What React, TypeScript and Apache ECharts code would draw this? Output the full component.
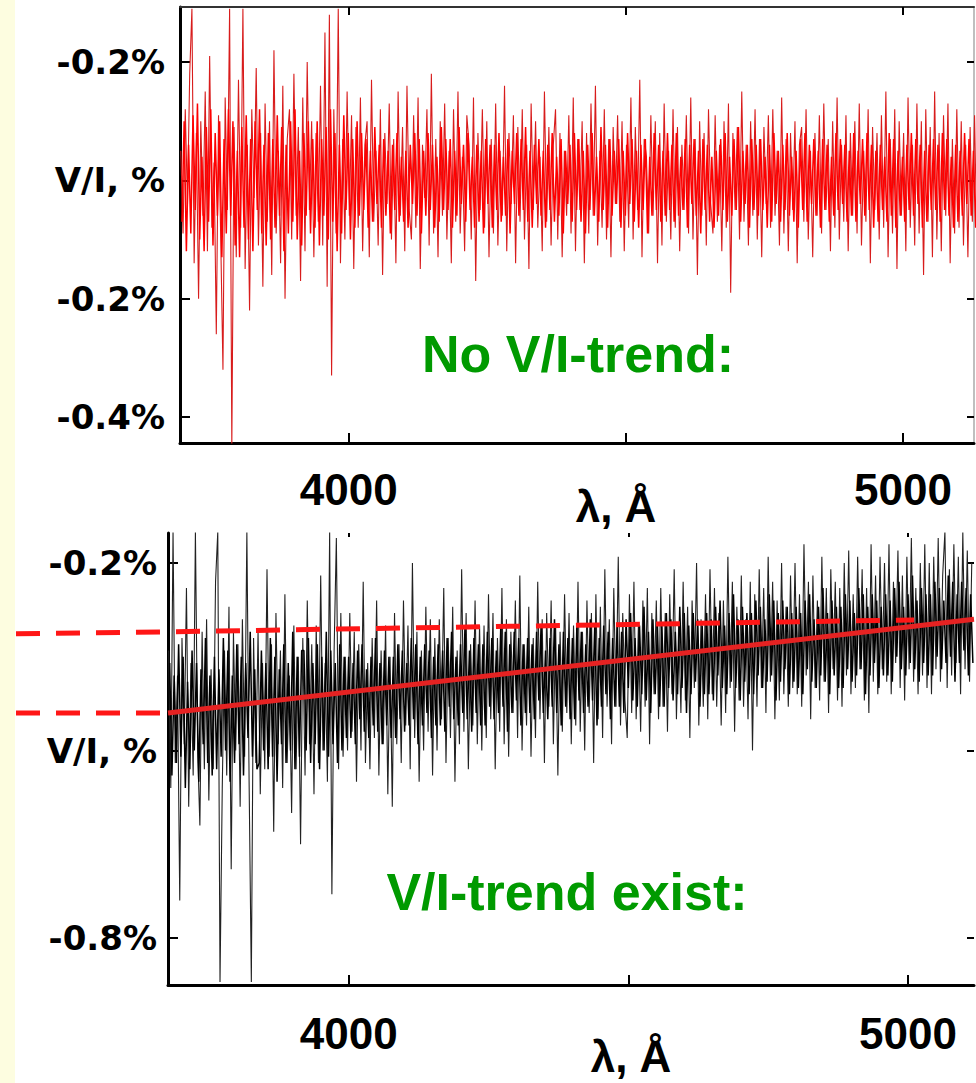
import React, { useEffect, useRef } from "react";
import * as echarts from "echarts";

// Sampling grid of the two spectra (wavelength, Å); the "core" samples sit halfway between
const TOP_START = 3697;
const BOT_START = 3678;
const STEP = 4;
const CORE_OFFSET = 2;

// Upper panel: V/I (%) with no trend (red)
const TOP_VALUES = [
  0.05, -0.09, 0.12, -0.04, 0.18, 0.29, -0.14, 0.08, -0.2, 0.1, -0.06, 0.15, -0.12, 0.21, -0.08, 0.03, -0.26, 0.11, -0.1, -0.32,
  0.14, -0.05, 0.29, -0.45, 0.09, -0.13, 0.17, -0.08, 0.29, -0.15, 0.06, -0.22, 0.12, -0.03, 0.19, -0.11, 0.08, -0.18, 0.13, -0.07,
  0.1, -0.16, 0.22, -0.09, 0.05, -0.14, 0.16, -0.2, 0.07, 0.12, -0.1, 0.18, -0.06, 0.09, -0.17, 0.14, -0.12, 0.2, -0.05, 0.1,
  -0.13, 0.08, -0.07, 0.16, -0.11, 0.25, -0.18, 0.28, -0.33, 0.12, -0.09, 0.29, -0.14, 0.07, -0.1, 0.15, -0.06, 0.11, -0.15, 0.09,
  -0.08, 0.14, -0.12, 0.06, 0.1, -0.13, 0.17, -0.07, 0.05, -0.11, 0.12, -0.16, 0.08, -0.04, 0.13, -0.1, 0.07, -0.14, 0.15, -0.06,
  0.09, -0.12, 0.16, -0.05, -0.1, 0.11, -0.08, 0.14, -0.15, 0.06, -0.03, 0.12, -0.11, 0.18, -0.09, 0.07, -0.13, 0.1, -0.06, 0.13,
  -0.1, 0.05, -0.14, 0.12, -0.07, 0.15, -0.09, 0.04, -0.12, 0.11, 0.06, -0.1, 0.14, -0.17, 0.08, -0.05, 0.12, -0.08, 0.1, -0.13,
  0.07, -0.09, 0.13, -0.11, 0.05, -0.06, 0.16, -0.12, 0.08, -0.04, 0.11, -0.14, 0.09, -0.07, 0.12, -0.1, 0.06, -0.15, 0.13, -0.05,
  0.1, -0.08, 0.04, -0.12, 0.15, -0.07, 0.09, -0.11, 0.06, 0.12, -0.1, 0.08, -0.13, 0.05, -0.06, 0.11, -0.09, 0.14, -0.12, 0.07,
  -0.05, 0.1, -0.14, 0.08, -0.09, 0.13, -0.06, 0.16, -0.11, 0.05, -0.08, 0.12, -0.1, 0.07, -0.13, 0.09, -0.04, 0.11, -0.07, 0.1,
  -0.12, 0.06, -0.08, 0.14, -0.1, 0.09, -0.05, 0.17, -0.13, 0.07, 0.04, -0.09, 0.11, -0.06, 0.1, -0.14, 0.08, -0.11, 0.13, -0.07,
  0.05, -0.1, 0.12, -0.08, 0.09, -0.12, 0.06, -0.05, 0.11, -0.09, 0.14, -0.1, 0.07, -0.16, 0.1, -0.06, 0.08, -0.11, 0.12, -0.04,
  -0.09, 0.11, -0.07, 0.06, -0.12, 0.1, -0.08, 0.13, -0.19, 0.08, -0.05, 0.09, -0.1, 0.15, -0.07, 0.06, -0.11, 0.1, -0.06, 0.12,
  -0.1, 0.07, -0.13, 0.09, -0.04, 0.11, -0.08, 0.12, -0.06, 0.05, -0.11, 0.14, -0.09, 0.07, -0.12, 0.08, -0.05, 0.1, -0.14, 0.06,
  0.09, -0.07, 0.12, -0.1, 0.05, -0.13, 0.08, -0.06, 0.11, -0.09, 0.13, -0.05, 0.07, -0.12, 0.1, -0.08, 0.14, -0.1, 0.06, -0.07,
  0.11, -0.12, 0.08, -0.06, 0.1, -0.09, 0.13, -0.11, 0.05, -0.07, 0.12, -0.14, 0.09, -0.05, 0.08, -0.1, 0.11, -0.08, 0.15, -0.13,
  0.07, -0.09, 0.12, -0.15, 0.1, -0.06, 0.08, -0.12, 0.14, -0.08, 0.06, -0.11, 0.13, -0.09, 0.1, -0.16, 0.12, -0.07, 0.09, -0.13,
  0.15, -0.1, 0.08, -0.12, 0.11, -0.06, 0.13, -0.14, 0.07, -0.09, 0.12, -0.08, 0.1, -0.11, 0.06, -0.13, 0.09, -0.07, 0.11, -0.1,
];
const TOP_CORE = [
  -0.07, 0.1, -0.12, 0.06, -0.09, 0.11, -0.05, 0.13, -0.1, 0.04, -0.12, 0.09, -0.07, 0.12, -0.11, 0.08, -0.06, 0.1, -0.13, 0.07,
  -0.09, 0.12, -0.06, 0.1, -0.11, 0.05, -0.13, 0.09, -0.08, 0.11, -0.1, 0.07, -0.12, 0.1, -0.05, 0.12, -0.09, 0.06, -0.11, 0.08,
  -0.1, 0.07, -0.08, 0.11, -0.06, 0.09, -0.12, 0.06, -0.09, 0.1, -0.07, 0.12, -0.1, 0.05, -0.11, 0.08, -0.06, 0.1, -0.09, 0.07,
  -0.08, 0.1, -0.11, 0.07, -0.06, 0.09, -0.1, 0.12, -0.07, 0.08, -0.12, 0.06, -0.09, 0.11, -0.05, 0.08, -0.1, 0.07, -0.08, 0.1,
  -0.06, 0.08, -0.05, 0.07, -0.08, 0.05, -0.07, 0.09, -0.04, 0.06, -0.08, 0.07, -0.06, 0.05, -0.09, 0.06, -0.05, 0.08, -0.07, 0.04,
  -0.07, 0.05, -0.08, 0.06, -0.04, 0.08, -0.06, 0.07, -0.09, 0.05, -0.06, 0.08, -0.05, 0.06, -0.08, 0.04, -0.07, 0.09, -0.05, 0.07,
  -0.05, 0.07, -0.08, 0.05, -0.06, 0.09, -0.04, 0.06, -0.07, 0.08, -0.05, 0.04, -0.08, 0.06, -0.07, 0.05, -0.09, 0.07, -0.04, 0.06,
  -0.08, 0.06, -0.05, 0.08, -0.07, 0.04, -0.06, 0.07, -0.09, 0.05, -0.04, 0.08, -0.06, 0.07, -0.05, 0.09, -0.07, 0.05, -0.08, 0.06,
  -0.04, 0.07, -0.06, 0.05, -0.08, 0.06, -0.05, 0.08, -0.07, 0.04, -0.06, 0.07, -0.09, 0.05, -0.04, 0.06, -0.07, 0.08, -0.05, 0.07,
  -0.07, 0.05, -0.09, 0.06, -0.05, 0.08, -0.06, 0.04, -0.07, 0.09, -0.05, 0.06, -0.08, 0.07, -0.06, 0.05, -0.04, 0.07, -0.08, 0.05,
  -0.06, 0.08, -0.04, 0.07, -0.07, 0.05, -0.08, 0.06, -0.05, 0.07, -0.09, 0.04, -0.06, 0.08, -0.05, 0.06, -0.07, 0.05, -0.06, 0.08,
  -0.05, 0.06, -0.07, 0.08, -0.06, 0.04, -0.05, 0.07, -0.08, 0.06, -0.04, 0.07, -0.06, 0.05, -0.09, 0.07, -0.05, 0.06, -0.07, 0.04,
  -0.08, 0.05, -0.06, 0.07, -0.05, 0.08, -0.07, 0.04, -0.06, 0.07, -0.05, 0.09, -0.07, 0.05, -0.04, 0.06, -0.08, 0.07, -0.05, 0.06,
  -0.06, 0.07, -0.05, 0.04, -0.08, 0.06, -0.07, 0.08, -0.04, 0.05, -0.07, 0.06, -0.05, 0.08, -0.06, 0.04, -0.07, 0.05, -0.08, 0.07,
  -0.05, 0.08, -0.07, 0.06, -0.04, 0.07, -0.06, 0.05, -0.08, 0.07, -0.05, 0.06, -0.07, 0.04, -0.06, 0.08, -0.05, 0.07, -0.04, 0.06,
  -0.07, 0.05, -0.06, 0.08, -0.07, 0.05, -0.04, 0.07, -0.06, 0.08, -0.05, 0.06, -0.08, 0.05, -0.07, 0.06, -0.05, 0.04, -0.07, 0.08,
  -0.06, 0.07, -0.08, 0.05, -0.06, 0.04, -0.07, 0.06, -0.05, 0.08, -0.06, 0.07, -0.04, 0.06, -0.08, 0.05, -0.07, 0.06, -0.05, 0.07,
  -0.05, 0.06, -0.07, 0.08, -0.05, 0.07, -0.06, 0.04, -0.08, 0.06, -0.07, 0.05, -0.06, 0.08, -0.04, 0.07, -0.06, 0.05, -0.08, 0.06,
];

// Lower panel: V/I (%) with a trend (black)
const BOT_VALUES = [
  -0.34, -0.56, -0.15, -0.52, -0.38, -0.74, -0.32, -0.49, -0.24, -0.59, -0.36, -0.54, -0.15, -0.5, -0.62, -0.31, -0.53, -0.29, -0.58, -0.37,
  -0.53, -0.23, -0.15, -0.87, -0.56, -0.34, -0.54, -0.27, -0.69, -0.31, -0.5, -0.33, -0.59, -0.29, -0.51, -0.15, -0.55, -0.87, -0.32, -0.52,
  -0.31, -0.57, -0.36, -0.53, -0.21, -0.51, -0.33, -0.63, -0.28, -0.49, -0.34, -0.56, -0.25, -0.52, -0.38, -0.6, -0.3, -0.53, -0.35, -0.65,
  -0.32, -0.54, -0.26, -0.49, -0.33, -0.57, -0.3, -0.52, -0.22, -0.5, -0.36, -0.55, -0.15, -0.73, -0.34, -0.16, -0.53, -0.28, -0.51, -0.35,
  -0.5, -0.28, -0.47, -0.31, -0.55, -0.33, -0.5, -0.23, -0.52, -0.36, -0.53, -0.32, -0.48, -0.26, -0.54, -0.34, -0.49, -0.3, -0.57, -0.35,
  -0.59, -0.28, -0.49, -0.33, -0.52, -0.26, -0.46, -0.3, -0.53, -0.2, -0.48, -0.31, -0.55, -0.34, -0.5, -0.27, -0.47, -0.29, -0.54, -0.32,
  -0.5, -0.29, -0.45, -0.24, -0.52, -0.32, -0.48, -0.27, -0.55, -0.34, -0.49, -0.21, -0.47, -0.28, -0.53, -0.33, -0.46, -0.26, -0.49, -0.3,
  -0.5, -0.3, -0.48, -0.25, -0.45, -0.28, -0.53, -0.32, -0.47, -0.24, -0.49, -0.29, -0.51, -0.31, -0.44, -0.26, -0.48, -0.22, -0.5, -0.33,
  -0.46, -0.27, -0.51, -0.32, -0.48, -0.23, -0.45, -0.29, -0.52, -0.28, -0.43, -0.26, -0.49, -0.3, -0.54, -0.31, -0.47, -0.25, -0.44, -0.28,
  -0.49, -0.3, -0.46, -0.23, -0.47, -0.31, -0.5, -0.26, -0.44, -0.28, -0.52, -0.25, -0.45, -0.27, -0.48, -0.21, -0.43, -0.29, -0.49, -0.24,
  -0.43, -0.19, -0.46, -0.28, -0.42, -0.48, -0.25, -0.44, -0.23, -0.45, -0.3, -0.47, -0.26, -0.43, -0.24, -0.49, -0.28, -0.41, -0.26, -0.45,
  -0.24, -0.43, -0.28, -0.47, -0.25, -0.41, -0.21, -0.45, -0.3, -0.44, -0.23, -0.42, -0.27, -0.48, -0.26, -0.4, -0.2, -0.46, -0.29, -0.43,
  -0.25, -0.45, -0.21, -0.41, -0.24, -0.43, -0.28, -0.46, -0.26, -0.44, -0.19, -0.4, -0.23, -0.47, -0.27, -0.42, -0.22, -0.43, -0.29, -0.45,
  -0.23, -0.5, -0.25, -0.43, -0.21, -0.4, -0.24, -0.44, -0.19, -0.39, -0.23, -0.45, -0.26, -0.42, -0.2, -0.41, -0.27, -0.43, -0.22, -0.4,
  -0.2, -0.41, -0.25, -0.43, -0.17, -0.38, -0.23, -0.45, -0.22, -0.4, -0.26, -0.42, -0.19, -0.39, -0.24, -0.44, -0.21, -0.37, -0.23, -0.42,
  -0.24, -0.43, -0.2, -0.38, -0.18, -0.41, -0.25, -0.4, -0.19, -0.37, -0.21, -0.42, -0.24, -0.44, -0.17, -0.39, -0.22, -0.41, -0.19, -0.37,
  -0.2, -0.39, -0.17, -0.41, -0.23, -0.36, -0.18, -0.4, -0.22, -0.42, -0.19, -0.37, -0.16, -0.39, -0.24, -0.41, -0.2, -0.38, -0.17, -0.4,
  -0.2, -0.41, -0.19, -0.37, -0.16, -0.39, -0.22, -0.15, -0.4, -0.21, -0.38, -0.17, -0.36, -0.19, -0.41, -0.15, -0.37, -0.18, -0.39, -0.2,
];
const BOT_CORE = [
  -0.36, -0.54, -0.38, -0.52, -0.33, -0.51, -0.35, -0.56, -0.39, -0.53, -0.34, -0.5, -0.36, -0.55, -0.37, -0.49, -0.32, -0.52, -0.38, -0.54,
  -0.35, -0.53, -0.37, -0.51, -0.32, -0.5, -0.34, -0.55, -0.38, -0.52, -0.33, -0.49, -0.35, -0.54, -0.36, -0.48, -0.31, -0.51, -0.37, -0.53,
  -0.52, -0.34, -0.5, -0.36, -0.53, -0.32, -0.51, -0.35, -0.55, -0.37, -0.49, -0.33, -0.52, -0.36, -0.5, -0.31, -0.53, -0.35, -0.51, -0.34,
  -0.34, -0.5, -0.32, -0.52, -0.36, -0.49, -0.33, -0.53, -0.35, -0.5, -0.31, -0.51, -0.34, -0.49, -0.36, -0.52, -0.33, -0.5, -0.35, -0.48,
  -0.35, -0.48, -0.36, -0.49, -0.34, -0.45, -0.33, -0.47, -0.37, -0.48, -0.35, -0.46, -0.32, -0.47, -0.36, -0.49, -0.34, -0.46, -0.35, -0.48,
  -0.35, -0.48, -0.33, -0.45, -0.34, -0.47, -0.36, -0.46, -0.32, -0.45, -0.33, -0.49, -0.35, -0.46, -0.33, -0.44, -0.34, -0.48, -0.35, -0.46,
  -0.33, -0.46, -0.34, -0.47, -0.32, -0.43, -0.31, -0.45, -0.35, -0.46, -0.33, -0.44, -0.3, -0.45, -0.34, -0.47, -0.32, -0.44, -0.33, -0.46,
  -0.33, -0.46, -0.31, -0.43, -0.32, -0.45, -0.34, -0.44, -0.3, -0.43, -0.31, -0.47, -0.33, -0.44, -0.31, -0.42, -0.32, -0.46, -0.33, -0.44,
  -0.32, -0.44, -0.33, -0.45, -0.31, -0.42, -0.3, -0.44, -0.34, -0.45, -0.32, -0.43, -0.29, -0.44, -0.33, -0.46, -0.31, -0.43, -0.32, -0.45,
  -0.32, -0.45, -0.3, -0.42, -0.31, -0.44, -0.33, -0.43, -0.29, -0.42, -0.3, -0.46, -0.32, -0.43, -0.3, -0.41, -0.31, -0.45, -0.32, -0.43,
  -0.3, -0.43, -0.31, -0.44, -0.29, -0.4, -0.28, -0.42, -0.32, -0.43, -0.3, -0.41, -0.27, -0.42, -0.31, -0.44, -0.29, -0.41, -0.3, -0.43,
  -0.3, -0.43, -0.28, -0.4, -0.29, -0.42, -0.31, -0.41, -0.27, -0.4, -0.28, -0.44, -0.3, -0.41, -0.28, -0.39, -0.29, -0.43, -0.3, -0.41,
  -0.28, -0.41, -0.29, -0.42, -0.27, -0.38, -0.26, -0.4, -0.3, -0.41, -0.28, -0.39, -0.25, -0.4, -0.29, -0.42, -0.27, -0.39, -0.28, -0.41,
  -0.28, -0.41, -0.26, -0.38, -0.27, -0.4, -0.29, -0.39, -0.25, -0.38, -0.26, -0.42, -0.28, -0.39, -0.26, -0.37, -0.27, -0.41, -0.28, -0.39,
  -0.27, -0.4, -0.28, -0.41, -0.26, -0.37, -0.25, -0.39, -0.29, -0.4, -0.27, -0.38, -0.24, -0.39, -0.28, -0.41, -0.26, -0.38, -0.27, -0.4,
  -0.27, -0.4, -0.25, -0.37, -0.26, -0.39, -0.28, -0.38, -0.24, -0.37, -0.25, -0.41, -0.27, -0.38, -0.25, -0.36, -0.26, -0.4, -0.27, -0.38,
  -0.25, -0.38, -0.26, -0.39, -0.24, -0.35, -0.23, -0.37, -0.27, -0.38, -0.25, -0.36, -0.22, -0.37, -0.26, -0.39, -0.24, -0.36, -0.25, -0.38,
  -0.25, -0.38, -0.23, -0.35, -0.24, -0.37, -0.26, -0.36, -0.22, -0.35, -0.23, -0.39, -0.25, -0.36, -0.23, -0.34, -0.24, -0.38, -0.25, -0.36,
];

// Fitted trend (solid red) and the level reached (dashed red)
const TREND_X = [3677, 5118];
const TREND_Y = [-0.44, -0.29];
const DASH_X = [3677, 5011];
const DASH_Y = [-0.31, -0.291];

// Ticks and labels
const TOP_Y_TICKS = [0.2, 0, -0.2, -0.4];
const TOP_Y_LABELS = ["-0.2%", "V/I, %", "-0.2%", "-0.4%"];
const BOT_Y_TICKS = [-0.2, -0.5, -0.8];
const BOT_Y_LABELS = ["-0.2%", "V/I, %", "-0.8%"];
const X_TICKS = [4000, 4500, 5000];
const X_LABELS = [4000, 5000];

const FONT = "'Liberation Sans', Arial, sans-serif";
const WIDE = "'DejaVu Sans', 'Liberation Sans', sans-serif";

function labelFor(ticks: number[], labels: string[]) {
  return (v: number) => {
    for (let i = 0; i < ticks.length; i++) {
      if (Math.abs(ticks[i] - v) < 1e-9) return labels[i];
    }
    return "";
  };
}

export default function App() {
  const ref = useRef<HTMLDivElement>(null);

  useEffect(() => {
    if (!ref.current) return;
    const chart = echarts.init(ref.current, null, { renderer: "svg" });

    const topData = TOP_VALUES.map((v, i) => [TOP_START + STEP * i, v]);
    const topCore = TOP_CORE.map((v, i) => [TOP_START + CORE_OFFSET + STEP * i, v]);
    const botData = BOT_VALUES.map((v, i) => [BOT_START + STEP * i, v]);
    const botCore = BOT_CORE.map((v, i) => [BOT_START + CORE_OFFSET + STEP * i, v]);
    const trendData = TREND_X.map((x, i) => [x, TREND_Y[i]]);

    const axisLineStyle = (w: number, c = "#000") => ({ show: true, onZero: false, lineStyle: { color: c, width: w } });

    const xLabel = {
      customValues: X_LABELS,
      fontFamily: FONT,
      fontWeight: "bold" as const,
      fontSize: 44,
      color: "#000",
      margin: 24,
      formatter: (v: number) => String(v),
    };
    const yLabelStyle = {
      fontFamily: WIDE,
      fontWeight: "bold" as const,
      fontSize: 34,
      color: "#000",
    };
    const tick = (len: number, values: number[]) => ({
      show: true, inside: true, length: len, customValues: values, lineStyle: { color: "#000", width: 2 },
    });

    const option: any = {
      animation: false,
      backgroundColor: "#ffffff",
      grid: [
        { left: 180, top: 7, width: 794, height: 436 },
        { left: 168, top: 533, width: 806, height: 452 },
      ],
      xAxis: [
        {
          type: "value", gridIndex: 0, position: "bottom", min: 3695.5, max: 5128,
          axisLine: axisLineStyle(3), axisTick: tick(10, X_TICKS), axisLabel: xLabel, splitLine: { show: false },
        },
        {
          type: "value", gridIndex: 0, position: "top", min: 3695.5, max: 5128,
          axisLine: axisLineStyle(2, "#333"), axisTick: tick(8, X_TICKS), axisLabel: { show: false }, splitLine: { show: false },
        },
        {
          type: "value", gridIndex: 1, position: "bottom", min: 3677, max: 5118,
          axisLine: axisLineStyle(3), axisTick: tick(10, X_TICKS), axisLabel: { ...xLabel, margin: 26 }, splitLine: { show: false },
        },
        {
          type: "value", gridIndex: 1, position: "top", min: 3677, max: 5118,
          axisLine: { show: false, onZero: false }, axisTick: tick(4, X_TICKS), axisLabel: { show: false }, splitLine: { show: false },
        },
      ],
      yAxis: [
        {
          type: "value", gridIndex: 0, position: "left", min: -0.444, max: 0.293,
          axisLine: axisLineStyle(3), axisTick: tick(10, TOP_Y_TICKS),
          axisLabel: { ...yLabelStyle, customValues: TOP_Y_TICKS, margin: 15, formatter: labelFor(TOP_Y_TICKS, TOP_Y_LABELS) },
          splitLine: { show: false },
        },
        {
          type: "value", gridIndex: 0, position: "right", min: -0.444, max: 0.293,
          axisLine: axisLineStyle(1.5, "#aaa"), axisTick: tick(7, TOP_Y_TICKS), axisLabel: { show: false }, splitLine: { show: false },
        },
        {
          type: "value", gridIndex: 1, position: "left", min: -0.875, max: -0.152,
          axisLine: axisLineStyle(3), axisTick: tick(10, BOT_Y_TICKS),
          axisLabel: { ...yLabelStyle, customValues: BOT_Y_TICKS, margin: 11, formatter: labelFor(BOT_Y_TICKS, BOT_Y_LABELS) },
          splitLine: { show: false },
        },
        {
          type: "value", gridIndex: 1, position: "right", min: -0.875, max: -0.152,
          axisLine: { show: false, onZero: false }, axisTick: tick(7, BOT_Y_TICKS), axisLabel: { show: false }, splitLine: { show: false },
        },
      ],
      series: [
        {
          type: "line", name: "no trend", xAxisIndex: 0, yAxisIndex: 0, data: topData,
          symbol: "none", clip: true, lineStyle: { color: "#d81c1c", width: 1.1 }, z: 2,
        },
        {
          type: "line", name: "no trend core", xAxisIndex: 0, yAxisIndex: 0, data: topCore,
          symbol: "none", clip: true, lineStyle: { color: "#ff0000", width: 1.5 }, z: 3,
        },
        {
          type: "line", name: "trend", xAxisIndex: 2, yAxisIndex: 2, data: botData,
          symbol: "none", clip: true, lineStyle: { color: "#222222", width: 1.1 }, z: 2,
        },
        {
          type: "line", name: "trend core", xAxisIndex: 2, yAxisIndex: 2, data: botCore,
          symbol: "none", clip: true, lineStyle: { color: "#000000", width: 1.5 }, z: 3,
        },
        {
          type: "line", name: "fit", xAxisIndex: 2, yAxisIndex: 2, data: trendData,
          symbol: "none", clip: true, lineStyle: { color: "#e62222", width: 5 }, z: 5,
        },
      ],
    };

    chart.setOption(option);

    const p = (x: number, y: number) => chart.convertToPixel({ gridIndex: 1 } as any, [x, y]) as number[];
    const dl = p(DASH_X[0], DASH_Y[0]);
    const dr = p(DASH_X[1], DASH_Y[1]);
    const tl = p(TREND_X[0], TREND_Y[0]);
    const dashStyle = { stroke: "#ff1616", lineWidth: 5, lineDash: [24, 16], fill: null };

    chart.setOption({
      graphic: [
        { type: "rect", shape: { x: 0, y: 0, width: 15, height: 1083 }, style: { fill: "#fdfde0" }, z: 0, silent: true },
        {
          type: "polyline", z: 100, silent: true,
          shape: { points: [[16, dl[1] + 2], [dl[0], dl[1]], [dr[0], dr[1]]] },
          style: dashStyle,
        },
        {
          type: "polyline", z: 100, silent: true,
          shape: { points: [[16, tl[1]], [tl[0], tl[1]]] },
          style: dashStyle,
        },
        {
          type: "text", x: 578, y: 354, z: 100, silent: true,
          style: { text: "No V/I-trend:", fill: "#009a00", font: `bold 52px ${FONT}`, align: "center", verticalAlign: "middle" },
        },
        {
          type: "text", x: 567, y: 892, z: 100, silent: true,
          style: { text: "V/I-trend exist:", fill: "#009a00", font: `bold 52px ${FONT}`, align: "center", verticalAlign: "middle" },
        },
        {
          type: "text", x: 616, y: 506, z: 100, silent: true,
          style: { text: "λ, Å", fill: "#000", font: `bold 44px ${FONT}`, align: "center", verticalAlign: "middle" },
        },
        {
          type: "text", x: 631, y: 1056, z: 100, silent: true,
          style: { text: "λ, Å", fill: "#000", font: `bold 44px ${FONT}`, align: "center", verticalAlign: "middle" },
        },
      ],
    });

    return () => chart.dispose();
  }, []);

  return <div ref={ref} style={{ position: "absolute", left: 0, top: 0, width: 976, height: 1083 }} />;
}
